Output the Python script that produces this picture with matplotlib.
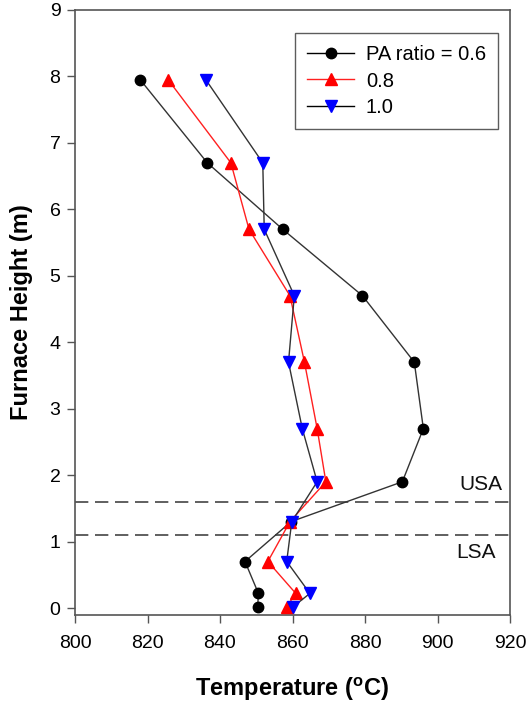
import matplotlib
matplotlib.use("Agg")
import matplotlib.pyplot as plt

plt.rcParams['font.family'] = ['Liberation Sans', 'DejaVu Sans']

# Furnace height of each measuring port (m)
heights = [7.95, 6.7, 5.7, 4.7, 3.7, 2.7, 1.9, 1.3, 0.7, 0.22, 0.02]

# Temperature profiles (deg C) for each primary-air ratio
temp_06 = [818, 836.5, 857.3, 879.3, 893.6, 896.1, 890.3, 859.6, 846.9, 850.6, 850.4]
temp_08 = [825.7, 843.0, 848.0, 859.3, 863.3, 866.8, 869.2, 859.3, 853.2, 860.9, 858.4]
temp_10 = [836.1, 851.8, 852.2, 860.5, 858.9, 862.7, 866.8, 859.8, 858.4, 864.8, 860.2]

series_labels = ["PA ratio = 0.6", "0.8", "1.0"]

# Boundaries of the upper and lower secondary-air zones (m)
usa_height = 1.6
lsa_height = 1.1
zone_labels = ["USA", "LSA"]

x_ticks = [800, 820, 840, 860, 880, 900, 920]
y_ticks = [0, 1, 2, 3, 4, 5, 6, 7, 8, 9]

W, H = 527, 702
fig = plt.figure(figsize=(W / 100, H / 100), dpi=100)
ax = fig.add_axes([75 / W, 1 - 615 / H, 435 / W, 605 / H])

ax.plot(temp_06, heights, color='#333333', lw=1.0, marker='o', ms=7.5,
        mfc='black', mec='black', label=series_labels[0], zorder=3)
ax.plot(temp_08, heights, color='#ff2020', lw=1.0, marker='^', ms=8.5,
        mfc='red', mec='red', label=series_labels[1], zorder=3)
ax.plot(temp_10, heights, color='#333333', lw=1.0, marker='v', ms=8.5,
        mfc='blue', mec='blue', label=series_labels[2], zorder=3)

ax.axhline(usa_height, color='#444444', lw=1.2, ls=(0, (8, 4)), zorder=2)
ax.axhline(lsa_height, color='#444444', lw=1.2, ls=(0, (8, 4)), zorder=2)
ax.text(912, 1.86, zone_labels[0], fontsize=15, color='#111111',
        ha='center', va='center')
ax.text(910.5, 0.83, zone_labels[1], fontsize=15, color='#111111',
        ha='center', va='center')

ax.set_xlim(800, 920)
ax.set_ylim(-0.105, 9)
ax.set_xticks(x_ticks)
ax.set_yticks(y_ticks)
ax.tick_params(axis='both', direction='out', length=5.5, width=1,
               color='#555555', labelsize=14, top=False, right=False)
ax.tick_params(axis='x', pad=9)
ax.tick_params(axis='y', pad=5)
for s in ax.spines.values():
    s.set_color('#555555')
    s.set_linewidth(1.2)

ax.set_xlabel("Temperature ($\\mathregular{^{o}}$C)", fontsize=17,
              fontweight='bold', labelpad=17)
ax.set_ylabel("Furnace Height (m)", fontsize=17, fontweight='bold',
              labelpad=12)

leg = ax.legend(loc='upper right', bbox_to_anchor=(498 / W, 1 - 33 / H),
                bbox_transform=fig.transFigure, borderaxespad=0,
                fontsize=14.5, frameon=True, fancybox=False,
                edgecolor='#333333', handlelength=2.3, handletextpad=0.6,
                borderpad=0.6, labelspacing=0.37)
leg.get_frame().set_linewidth(1.0)
leg.legend_handles[0].set_color('black')
leg.legend_handles[0].set_markerfacecolor('black')
leg.legend_handles[2].set_color('black')
leg.legend_handles[2].set_markerfacecolor('blue')
leg.legend_handles[2].set_markeredgecolor('blue')

fig.savefig("out.png", dpi=100)
